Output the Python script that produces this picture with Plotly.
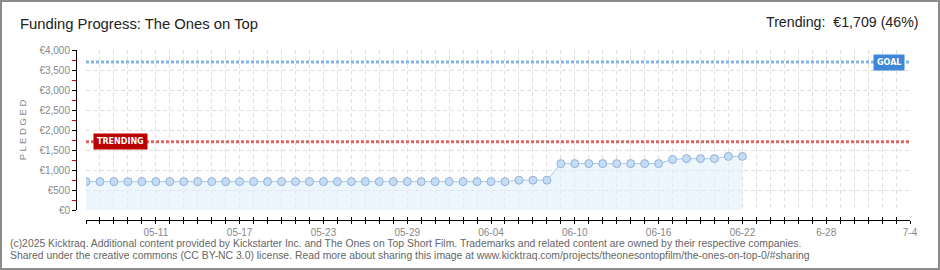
import plotly.graph_objects as go
import pandas as pd

# ---- data ----
dates = pd.date_range("2025-05-06", "2025-06-22", freq="D").strftime("%Y-%m-%d").tolist()
pledged = [710] * 31 + [745] * 3 + [1160] * 8 + [1265] + [1285] * 3 + [1340] * 2
axis_start = "2025-05-06"
axis_end = "2025-07-04"
goal = 3700
trending = 1709
trending_pct = 46
tick_dates = ["2025-05-11", "2025-05-17", "2025-05-23", "2025-05-29", "2025-06-04",
              "2025-06-10", "2025-06-16", "2025-06-22", "2025-06-28", "2025-07-04"]
tick_labels = ["05-11", "05-17", "05-23", "05-29", "06-04",
               "06-10", "06-16", "06-22", "6-28", "7-4"]
title_text = "Funding Progress: The Ones on Top"
footer1 = ("(c)2025 Kicktraq. Additional content provided by Kickstarter Inc. and The Ones on Top "
           "Short Film. Trademarks and related content are owned by their respective companies.")
footer2 = ("Shared under the creative commons (CC BY-NC 3.0) license. Read more about sharing this "
           "image at www.kicktraq.com/projects/theonesontopfilm/the-ones-on-top-0/#sharing")

W, H = 940, 270
ML, MR, MT, MB = 76, 30, 50, 50
PW, PH = W - ML - MR, H - MT - MB


def px(x):
    return (x - ML) / PW


def py(y):
    return (H - MB - y) / PH


FONT = "Liberation Sans, Arial, sans-serif"

fig = go.Figure()

# goal & trending lines
fig.add_trace(go.Scatter(x=[axis_start, axis_end], y=[goal, goal], mode="lines",
                         line=dict(color="#86b4e6", width=3, dash="3px,2px"),
                         hoverinfo="skip", showlegend=False))
fig.add_trace(go.Scatter(x=[axis_start, axis_end], y=[trending, trending], mode="lines",
                         line=dict(color="#e06464", width=3, dash="3px,2px"),
                         hoverinfo="skip", showlegend=False))

# pledged series
fig.add_trace(go.Scatter(x=dates, y=pledged, mode="lines+markers",
                         fill="tozeroy", fillcolor="rgba(225,238,252,0.6)",
                         line=dict(color="#a9c9ee", width=1),
                         marker=dict(size=8, color="#c4dcf6",
                                     line=dict(color="#93b2d4", width=1)),
                         showlegend=False))

# helper trace for the inner-tick axis
fig.add_trace(go.Scatter(x=[axis_start, axis_end], y=[0, 0], mode="markers",
                         marker=dict(opacity=0), xaxis="x2", hoverinfo="skip",
                         showlegend=False))

grid = dict(gridcolor="#dedede", griddash="4px,3px", gridwidth=1)

fig.update_layout(
    width=W, height=H,
    margin=dict(l=ML, r=MR, t=MT, b=MB),
    paper_bgcolor="white", plot_bgcolor="white",
    font=dict(family=FONT, color="#888888", size=10),
    xaxis=dict(
        type="date", range=[axis_start, axis_end], domain=[px(86), 1],
        anchor="free", position=0,
        showline=True, linecolor="#000000", linewidth=1,
        tickmode="array", tickvals=tick_dates, ticktext=tick_labels,
        ticks="outside", ticklen=3, tickcolor="#000000",
        tickfont=dict(size=10, color="#888888"),
        showgrid=True, **grid, zeroline=False,
        minor=dict(dtick=86400000, ticks="outside", ticklen=3, tickcolor="#000000",
                   showgrid=True, gridcolor="#dedede", griddash="4px,3px"),
    ),
    xaxis2=dict(
        type="date", range=[axis_start, axis_end], domain=[px(86), 1],
        anchor="free", position=0, overlaying="x",
        showline=False, showticklabels=False, showgrid=False, zeroline=False,
        tickmode="array", tickvals=tick_dates,
        ticks="inside", ticklen=3, tickcolor="#000000",
        minor=dict(dtick=86400000, ticks="inside", ticklen=3, tickcolor="#000000"),
    ),
    yaxis=dict(
        range=[0, 4000], domain=[py(210), 1], anchor="free", position=0,
        dtick=500, tickprefix="€", tickformat=",",
        showline=True, linecolor="#000000", linewidth=1,
        ticks="outside", ticklen=4, tickcolor="#000000",
        tickfont=dict(size=10, color="#888888"),
        showgrid=True, **grid, zeroline=False,
        minor=dict(dtick=250, ticks="outside", ticklen=4, tickcolor="#dd0000",
                   showgrid=False),
        title=dict(text="P L E D G E D", font=dict(size=9.5, color="#888888"), standoff=10),
    ),
    title=dict(text=title_text, xref="container", yref="container",
               x=20 / W, y=1 - 24 / H, xanchor="left", yanchor="middle",
               font=dict(family=FONT, size=14.8, color="#222222")),
)

fig.add_annotation(x=px(920), y=py(22), xref="paper", yref="paper",
                   text=f"Trending:  €{trending:,} ({trending_pct}%)", showarrow=False,
                   xanchor="right", yanchor="middle",
                   font=dict(family=FONT, size=14.2, color="#222222"))

fig.add_annotation(x=axis_start, y=trending, xref="x", yref="y", text="<b>TRENDING</b>",
                   showarrow=False, xanchor="left", yanchor="middle", xshift=7,
                   bgcolor="#bb0000", borderpad=3,
                   font=dict(family="DejaVu Sans", size=8, color="white"))
fig.add_annotation(x=axis_end, y=goal, xref="x", yref="y", text="<b>GOAL</b>",
                   showarrow=False, xanchor="right", yanchor="middle", xshift=-5,
                   bgcolor="#3d86d8", borderpad=3,
                   font=dict(family="DejaVu Sans", size=8, color="white"))

fig.add_annotation(x=px(8), y=py(243), xref="paper", yref="paper", text=footer1,
                   showarrow=False, xanchor="left", yanchor="middle",
                   font=dict(family=FONT, size=10.4, color="#666666"))
fig.add_annotation(x=px(8), y=py(256), xref="paper", yref="paper", text=footer2,
                   showarrow=False, xanchor="left", yanchor="middle",
                   font=dict(family=FONT, size=10.4, color="#666666"))

# outer border
fig.add_shape(type="rect", xref="paper", yref="paper",
              x0=px(1), x1=px(939), y0=py(269), y1=py(1),
              line=dict(color="#8c8c8c", width=2), fillcolor="rgba(0,0,0,0)")

fig.write_html("out.html")
